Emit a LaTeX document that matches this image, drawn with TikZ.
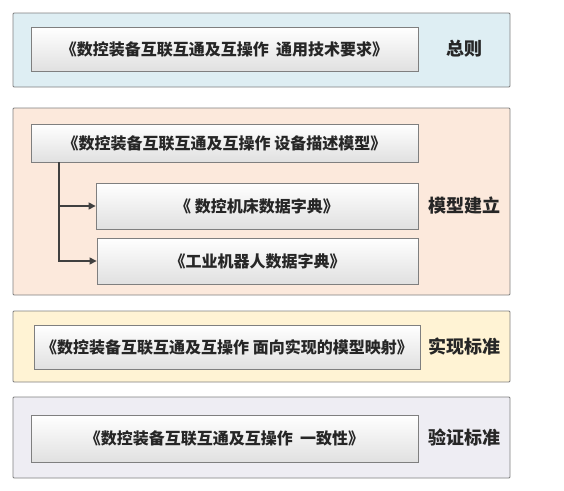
\documentclass[tikz,border=0pt]{standalone}
\usepackage{fontspec}
\setmainfont{Noto Sans CJK SC}
\usetikzlibrary{arrows.meta}
\definecolor{genblue}{HTML}{DEEEF3}
\definecolor{modpeach}{HTML}{FCE9DC}
\definecolor{impyellow}{HTML}{FFF3D4}
\definecolor{verlav}{HTML}{EEEDF3}
\definecolor{edgegray}{HTML}{7F7F7F}
\definecolor{txtgray}{HTML}{262626}
\begin{document}
\begin{tikzpicture}[x=1pt, y=-1pt,
    layer/.style={draw=edgegray, line width=0.8pt, rounded corners=1pt, minimum width=497pt, inner sep=0pt},
    doc/.style={draw=edgegray, line width=0.8pt, top color=white, bottom color=black!12, inner sep=0pt,
        text=txtgray, font=\fontsize{16}{18}\bfseries},
    tag/.style={text=txtgray, font=\fontsize{18}{20}\bfseries, inner sep=0pt},
    branch/.style={draw=black!75, line width=1.2pt, -{Triangle[length=7pt, width=7pt]}}]
    \useasboundingbox (0, 0) rectangle (564, 490);

        \node[layer, fill=genblue, minimum height=74pt] (gen) at(261.5, 50){};
        \node[layer, fill=modpeach, minimum height=187pt] (mod) at(261.5, 201.5){};
        \node[layer, fill=impyellow, minimum height=71pt] (imp) at(261.5, 346.5){};
        \node[layer, fill=verlav, minimum height=81pt] (ver) at(261.5, 437.5){};

        \node[doc, minimum width=387pt, minimum height=44pt] (gendoc) at(224.5, 49){《数控装备互联互通及互操作\ \ 通用技术要求》};
        \node[doc, minimum width=387pt, minimum height=38pt] (moddoc) at(224.5, 143){《数控装备互联互通及互操作 设备描述模型》};
        \node[doc, minimum width=322pt, minimum height=46pt] (cncdict) at(257, 206){《\ 数控机床数据字典》};
        \node[doc, minimum width=321pt, minimum height=46pt] (robdict) at(257.5, 261){《工业机器人数据字典》};
        \node[doc, minimum width=386pt, minimum height=44pt] (impdoc) at(227, 347){《数控装备互联互通及互操作 面向实现的模型映射》};
        \node[doc, minimum width=387pt, minimum height=47pt] (verdoc) at(224.5, 438.5){《数控装备互联互通及互操作\ \ 一致性》};

        \node[tag] (gentag) at(464, 49){总则};
        \node[tag] (modtag) at(464, 206){模型建立};
        \node[tag] (imptag) at(464, 347){实现标准};
        \node[tag] (vertag) at(464, 438){验证标准};

        % tree from the model box to the two dictionaries
        \coordinate (trunk) at(59, 162);
        \draw[branch] (trunk) |- (cncdict.west);
        \draw[branch] (trunk) |- (robdict.west);
    \end{tikzpicture}
\end{document}
